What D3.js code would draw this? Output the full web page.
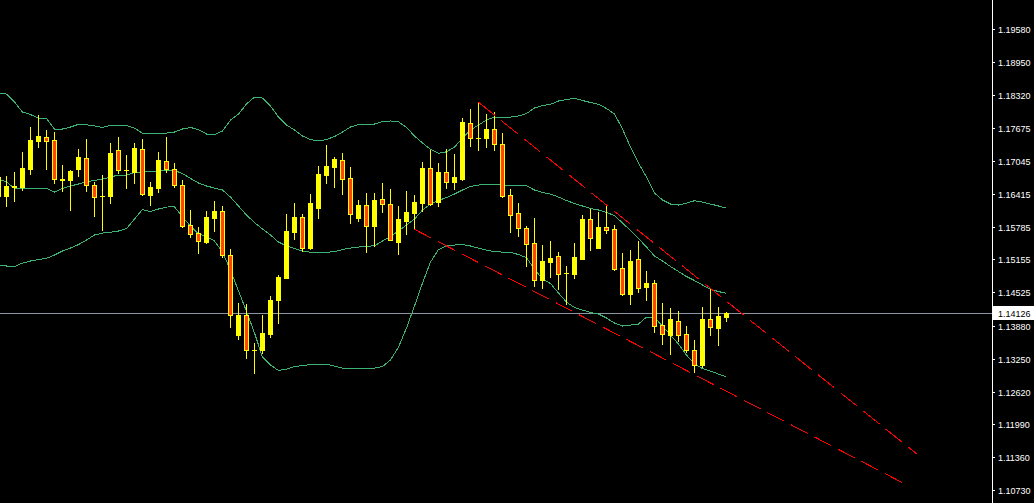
<!DOCTYPE html>
<html><head><meta charset="utf-8">
<script src="https://cdnjs.cloudflare.com/ajax/libs/d3/7.8.5/d3.min.js"></script>
<style>html,body{margin:0;padding:0;background:#000;overflow:hidden}</style>
</head><body><svg id="c" width="1034" height="503"></svg>
<script>
// bar index of first element (bar -1 is cut at the left edge)
const firstBar = -1;
const openPrices = [1.16374,1.16374,1.16541,1.16541,1.16898,1.17435,1.17501,1.17449,1.16690,1.16681,1.16898,1.17097,1.16585,1.16374,1.16374,1.17257,1.16870,1.16840,1.17270,1.16399,1.16533,1.17051,1.16898,1.16579,1.15811,1.15669,1.15490,1.15957,1.16080,1.15235,1.13711,1.14083,1.13423,1.13417,1.13730,1.14383,1.14805,1.15688,1.15970,1.15369,1.16149,1.16783,1.16936,1.17065,1.16719,1.15957,1.16201,1.15803,1.16310,1.16214,1.15496,1.15899,1.16053,1.16245,1.16911,1.16253,1.16829,1.16648,1.16700,1.17775,1.17481,1.17493,1.17654,1.17366,1.16393,1.16041,1.15759,1.15471,1.14755,1.15112,1.15216,1.14889,1.14882,1.15170,1.15932,1.15381,1.15778,1.15734,1.14985,1.14492,1.15158,1.14632,1.14703,1.13897,1.13711,1.13974,1.13718,1.13411,1.13123,1.14012,1.13845,1.14056];
const highPrices = [1.16796,1.16758,1.16834,1.17218,1.17693,1.17929,1.17641,1.17602,1.16969,1.16873,1.17276,1.17462,1.16648,1.16771,1.17397,1.17501,1.17161,1.17397,1.17462,1.16642,1.17218,1.17512,1.17001,1.16681,1.16105,1.15773,1.16080,1.16278,1.16182,1.15350,1.14325,1.14300,1.13545,1.14083,1.14454,1.14851,1.16028,1.16239,1.16022,1.16412,1.16950,1.17353,1.17122,1.17199,1.16930,1.16291,1.16431,1.16431,1.16617,1.16508,1.16182,1.16464,1.16393,1.17026,1.17251,1.17007,1.17282,1.17180,1.17877,1.18044,1.18173,1.17948,1.17981,1.17577,1.16508,1.16245,1.15803,1.15945,1.15433,1.15510,1.15293,1.15024,1.15477,1.16009,1.16124,1.16061,1.16220,1.15817,1.15273,1.15337,1.15510,1.14934,1.14761,1.14313,1.14229,1.14166,1.13878,1.13609,1.14242,1.14582,1.14237,1.14146];
const lowPrices = [1.16297,1.16182,1.16283,1.16489,1.16796,1.17320,1.16898,1.16629,1.16475,1.16105,1.16758,1.16475,1.15990,1.15721,1.16245,1.16821,1.16527,1.16629,1.16387,1.16195,1.16456,1.16840,1.16552,1.15784,1.15581,1.15273,1.15477,1.15707,1.15208,1.13853,1.13634,1.13269,1.12981,1.13353,1.13661,1.13929,1.14800,1.15542,1.15323,1.15350,1.15957,1.16629,1.16552,1.16418,1.15861,1.15899,1.15304,1.15419,1.16061,1.15520,1.15266,1.15650,1.15734,1.16091,1.16201,1.16187,1.16527,1.16508,1.16681,1.17339,1.17251,1.17320,1.17251,1.16360,1.15677,1.15611,1.15035,1.14640,1.14613,1.14818,1.14588,1.14294,1.14793,1.15165,1.15343,1.15376,1.15657,1.14953,1.14479,1.14306,1.14536,1.14383,1.13768,1.13538,1.13346,1.13590,1.13373,1.13000,1.13096,1.13705,1.13513,1.13979];
const closePrices = [1.16744,1.16566,1.16566,1.16911,1.17449,1.17526,1.17435,1.16694,1.16698,1.16859,1.17128,1.16579,1.16360,1.16378,1.17205,1.16873,1.16873,1.17295,1.16406,1.16541,1.17065,1.16898,1.16579,1.15803,1.15638,1.15504,1.15965,1.16086,1.15235,1.14083,1.14089,1.13411,1.13427,1.13743,1.14377,1.14818,1.15702,1.15970,1.15369,1.16239,1.16796,1.16950,1.17084,1.16706,1.16022,1.16201,1.15803,1.16291,1.16226,1.15530,1.15932,1.16066,1.16258,1.16911,1.16226,1.16834,1.16648,1.16738,1.17794,1.17493,1.17485,1.17660,1.17366,1.16379,1.16003,1.15753,1.15446,1.14755,1.15126,1.15183,1.14882,1.14894,1.15197,1.15932,1.15573,1.15778,1.15727,1.14978,1.14492,1.15126,1.14613,1.14703,1.13883,1.13730,1.14012,1.13711,1.13411,1.13123,1.14012,1.13853,1.14070,1.14126];
// Bollinger bands
const bandUpper = [1.18351,1.18332,1.18178,1.17986,1.17938,1.17871,1.17865,1.17660,1.17660,1.17698,1.17750,1.17743,1.17718,1.17689,1.17731,1.17731,1.17727,1.17679,1.17577,1.17577,1.17577,1.17583,1.17602,1.17660,1.17689,1.17650,1.17564,1.17554,1.17622,1.17833,1.17948,1.18140,1.18274,1.18255,1.18102,1.17890,1.17737,1.17641,1.17526,1.17458,1.17430,1.17458,1.17516,1.17602,1.17698,1.17746,1.17750,1.17756,1.17804,1.17814,1.17800,1.17689,1.17526,1.17391,1.17270,1.17193,1.17222,1.17314,1.17487,1.17641,1.17737,1.17833,1.17890,1.17885,1.17890,1.17910,1.17958,1.18063,1.18111,1.18134,1.18198,1.18226,1.18249,1.18207,1.18169,1.18134,1.18054,1.17948,1.17660,1.17314,1.17007,1.16738,1.16431,1.16297,1.16220,1.16201,1.16239,1.16283,1.16258,1.16220,1.16182,1.16143];
const bandMiddle = [1.16700,1.16642,1.16521,1.16521,1.16521,1.16521,1.16521,1.16450,1.16518,1.16566,1.16604,1.16648,1.16671,1.16700,1.16738,1.16777,1.16777,1.16825,1.16840,1.16844,1.16854,1.16863,1.16863,1.16806,1.16710,1.16623,1.16566,1.16527,1.16489,1.16354,1.16182,1.16009,1.15865,1.15740,1.15625,1.15490,1.15414,1.15366,1.15318,1.15293,1.15293,1.15293,1.15308,1.15346,1.15375,1.15394,1.15408,1.15419,1.15510,1.15596,1.15702,1.15817,1.15932,1.16105,1.16220,1.16287,1.16345,1.16412,1.16489,1.16556,1.16585,1.16604,1.16604,1.16585,1.16585,1.16579,1.16571,1.16489,1.16441,1.16412,1.16354,1.16287,1.16230,1.16182,1.16134,1.16105,1.16057,1.15999,1.15855,1.15711,1.15558,1.15394,1.15222,1.15126,1.15020,1.14924,1.14828,1.14751,1.14665,1.14582,1.14540,1.14505];
const bandLower = [1.15039,1.15030,1.15020,1.15087,1.15126,1.15154,1.15177,1.15241,1.15318,1.15375,1.15442,1.15529,1.15625,1.15663,1.15677,1.15702,1.15750,1.15932,1.16114,1.16076,1.16124,1.16162,1.16168,1.15970,1.15798,1.15644,1.15596,1.15510,1.15298,1.14953,1.14550,1.14160,1.13743,1.13282,1.13129,1.13023,1.13052,1.13100,1.13119,1.13138,1.13142,1.13142,1.13110,1.13071,1.13065,1.13065,1.13071,1.13071,1.13100,1.13225,1.13474,1.13839,1.14262,1.14703,1.15106,1.15346,1.15414,1.15433,1.15442,1.15414,1.15375,1.15337,1.15304,1.15298,1.15293,1.15250,1.15189,1.14972,1.14780,1.14694,1.14511,1.14338,1.14233,1.14185,1.14137,1.14108,1.14031,1.13935,1.13878,1.13897,1.13916,1.14050,1.14041,1.13878,1.13705,1.13532,1.13321,1.13148,1.13062,1.13014,1.12956,1.12898];
// trend lines: [bar index, price] end points
const trendUpperBars = [59, 113.8];
const trendUpperPrices = [1.18173, 1.11420];
const trendLowerBars = [51, 112.1];
const trendLowerPrices = [1.15734, 1.10863];
const currentPrice = 1.14126;
const priceTicks = ["1.19580","1.18950","1.18320","1.17675","1.17045","1.16415","1.15785","1.15155","1.14525","1.13880","1.13250","1.12620","1.11990","1.11360","1.10730"];

const W = 1034, H = 503, axisX = 992;
const svg = d3.select("#c");
svg.append("rect").attr("width", W).attr("height", H).attr("fill", "#000");

const x = d3.scaleLinear().domain([0, 90]).range([6.5, 726.5]);
const y = d3.scaleLinear().domain([1.19580, 1.10730]).range([29, 490]);

svg.append("clipPath").attr("id", "plot").append("rect").attr("x", 0).attr("y", 0).attr("width", axisX).attr("height", H);
const g = svg.append("g").attr("clip-path", "url(#plot)");

// current price line
const py = Math.round(y(currentPrice)) + 0.5;
g.append("line").attr("x1", 0).attr("x2", axisX).attr("y1", py).attr("y2", py)
  .attr("stroke", "#8a96a3").attr("stroke-width", 1).attr("shape-rendering", "crispEdges");

// bands
const bars = d3.range(openPrices.length).map(i => i + firstBar);
const bandLine = arr => d3.line().x((d, i) => x(bars[i])).y(d => y(d))(arr);
[bandUpper, bandMiddle, bandLower].forEach(arr => {
  g.append("path").attr("d", bandLine(arr)).attr("fill", "none")
    .attr("stroke", "#3cb371").attr("stroke-width", 1).attr("shape-rendering", "crispEdges");
});

// candles
bars.forEach((b, i) => {
  const o = openPrices[i], h = highPrices[i], l = lowPrices[i], c = closePrices[i];
  const cx = x(b);
  const yh = Math.round(y(h)), yl = Math.round(y(l));
  g.append("rect").attr("x", cx - 0.5).attr("y", yh).attr("width", 1).attr("height", Math.max(1, yl - yh + 1))
    .attr("fill", "#ffff00").attr("shape-rendering", "crispEdges");
  const top = Math.round(y(Math.max(o, c))), bot = Math.round(y(Math.min(o, c)));
  if (c >= o || bot - top < 2) {
    g.append("rect").attr("x", cx - 2.5).attr("y", top).attr("width", 5).attr("height", Math.max(1, bot - top + 1))
      .attr("fill", "#ffff00").attr("shape-rendering", "crispEdges");
  } else {
    g.append("rect").attr("x", cx - 2).attr("y", top + 0.5).attr("width", 4).attr("height", bot - top)
      .attr("fill", "#ff4500").attr("stroke", "#ffff00").attr("stroke-width", 1);
  }
});

// trend lines
const trend = (bs, ps, dash) => g.append("line")
  .attr("x1", x(bs[0])).attr("y1", y(ps[0])).attr("x2", x(bs[1])).attr("y2", y(ps[1]))
  .attr("stroke", "#ff0000").attr("stroke-width", 1).attr("stroke-dasharray", dash)
  .attr("shape-rendering", "crispEdges");
trend(trendUpperBars, trendUpperPrices, "21,8");
trend(trendLowerBars, trendLowerPrices, "19,7.5");

// axis
svg.append("line").attr("x1", axisX + 0.5).attr("x2", axisX + 0.5).attr("y1", 0).attr("y2", H)
  .attr("stroke", "#fff").attr("stroke-width", 1).attr("shape-rendering", "crispEdges");
priceTicks.forEach(t => {
  const ty = Math.round(y(+t)) + 0.5;
  svg.append("line").attr("x1", axisX).attr("x2", axisX + 3).attr("y1", ty).attr("y2", ty)
    .attr("stroke", "#fff").attr("shape-rendering", "crispEdges");
  svg.append("text").attr("x", 998).attr("y", ty).attr("dy", "0.35em")
    .attr("fill", "#fff").attr("font-family", "Liberation Sans, Arial, sans-serif").attr("font-size", "9px").text(t);
});
// current price label
svg.append("rect").attr("x", 993).attr("y", py - 7.5).attr("width", 41).attr("height", 14).attr("fill", "#fff");
svg.append("text").attr("x", 998).attr("y", py).attr("dy", "0.35em")
  .attr("fill", "#000").attr("font-family", "Liberation Sans, Arial, sans-serif").attr("font-size", "9px").text(currentPrice.toFixed(5));
</script></body></html>
